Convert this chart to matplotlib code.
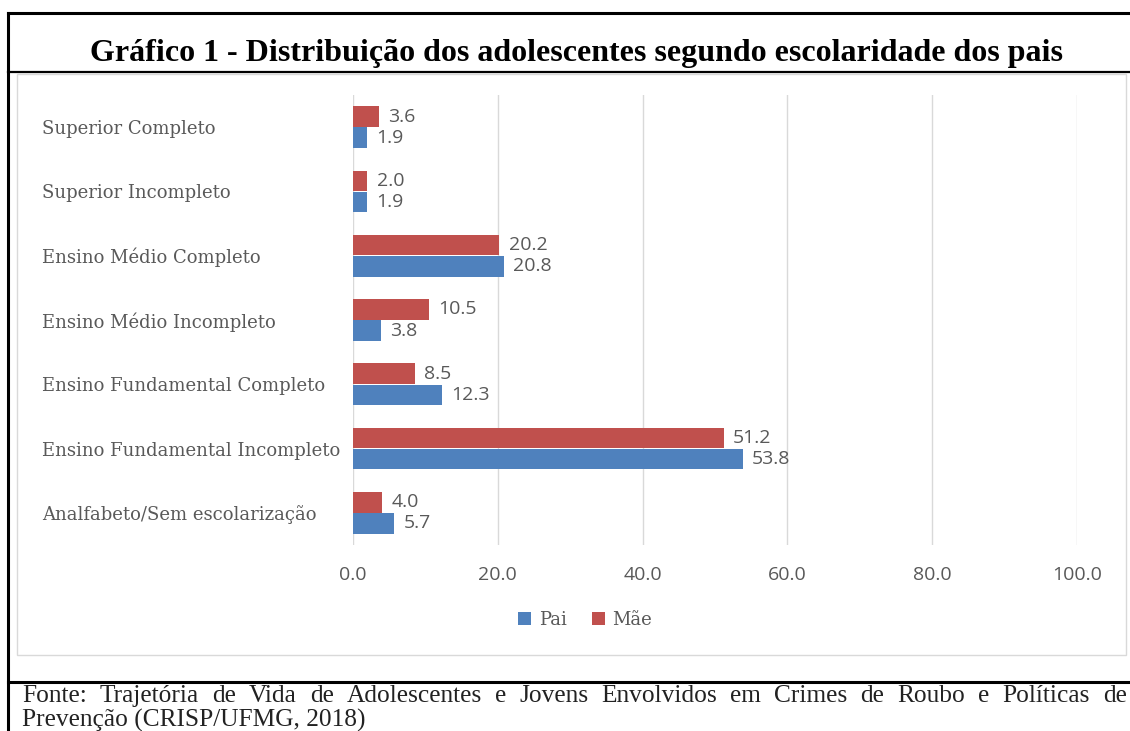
import matplotlib.pyplot as plt
from matplotlib.patches import Rectangle
from matplotlib.lines import Line2D

categorias = ["Superior Completo", "Superior Incompleto", "Ensino Médio Completo",
              "Ensino Médio Incompleto", "Ensino Fundamental Completo",
              "Ensino Fundamental Incompleto", "Analfabeto/Sem escolarização"]
pai = [1.9, 1.9, 20.8, 3.8, 12.3, 53.8, 5.7]
mae = [3.6, 2.0, 20.2, 10.5, 8.5, 51.2, 4.0]
xticks = [0, 20, 40, 60, 80, 100]

titulo = "Gráfico 1 - Distribuição dos adolescentes segundo escolaridade dos pais"
fonte1 = ("Fonte: Trajetória de Vida de Adolescentes e Jovens Envolvidos em Crimes "
          "de Roubo e Políticas de")
fonte2 = "Prevenção (CRISP/UFMG, 2018)"

AZUL = "#4F81BD"
VERM = "#C0504D"
CINZA = "#595959"
W, H = 1130, 731

fig = plt.figure(figsize=(W / 100, H / 100), dpi=100)

def fx(px):
    return px / W

def fy(py):
    return 1 - py / H

# frame lines of the table
for (x0, y0, x1, y1, lw) in [(8, 13, W, 13, 2.2), (8, 72, W, 72, 1.6),
                             (8, 682, W, 682, 2.2), (8, 13, 8, H, 2.2)]:
    fig.add_artist(Line2D([fx(x0), fx(x1)], [fy(y0), fy(y1)], color="black",
                          lw=lw, transform=fig.transFigure))
# light chart box
fig.add_artist(Rectangle((fx(17), fy(655)), fx(1126) - fx(17), fy(74) - fy(655),
                         fill=False, ec="#D9D9D9", lw=1, transform=fig.transFigure))

fig.text(fx(577), fy(61), titulo, ha="center", va="baseline",
         family="Liberation Serif", weight="bold", fontsize=23)

ax = fig.add_axes([fx(353), fy(545), fx(1077) - fx(353), fy(95) - fy(545)])
y = list(range(len(categorias)))
h = 0.32
ax.barh([v + 0.165 for v in y], pai, height=h, color=AZUL, label="Pai")
ax.barh([v - 0.165 for v in y], mae, height=h, color=VERM, label="Mãe")
for i in y:
    ax.text(pai[i] + 1.3, i + 0.165, f"{pai[i]:.1f}", va="center", ha="left",
            color=CINZA, family="Open Sans", fontsize=14)
    ax.text(mae[i] + 1.3, i - 0.165, f"{mae[i]:.1f}", va="center", ha="left",
            color=CINZA, family="Open Sans", fontsize=14)

ax.set_xlim(0, 100)
ax.set_ylim(6.5, -0.5)
ax.set_xticks(xticks)
ax.set_xticklabels([f"{v:.1f}" for v in xticks], family="Open Sans",
                   fontsize=14, color=CINZA)
ax.set_yticks(y)
ax.set_yticklabels(categorias, ha="left", family="DejaVu Serif", fontsize=13,
                   color=CINZA)
ax.tick_params(axis="y", length=0, pad=224)
ax.tick_params(axis="x", length=0, pad=15)
ax.grid(axis="x", color="#D9D9D9", lw=1)
ax.set_axisbelow(True)
for s in ax.spines.values():
    s.set_visible(False)

leg = fig.legend(loc="center", bbox_to_anchor=(fx(585), fy(620)), ncol=2,
                 frameon=False, prop={"family": "DejaVu Serif", "size": 13},
                 handlelength=0.75, handleheight=0.75, handletextpad=0.4,
                 columnspacing=1.4)
for t in leg.get_texts():
    t.set_color(CINZA)

# justified first line of the footer
renderer = fig.canvas.get_renderer()
palavras = fonte1.split(" ")
objs = [fig.text(0, fy(702), p, family="Liberation Serif", fontsize=18.3,
                 va="baseline", color="#222222") for p in palavras]
larg = [o.get_window_extent(renderer).width for o in objs]
x0, x1 = 22, 1127
gap = (x1 - x0 - sum(larg)) / (len(palavras) - 1)
x = x0
for o, w in zip(objs, larg):
    o.set_x(fx(x))
    x += w + gap
fig.text(fx(22), fy(727), fonte2, family="Liberation Serif", fontsize=18.3,
         va="baseline", color="#222222")

fig.savefig("out.png", dpi=100)
